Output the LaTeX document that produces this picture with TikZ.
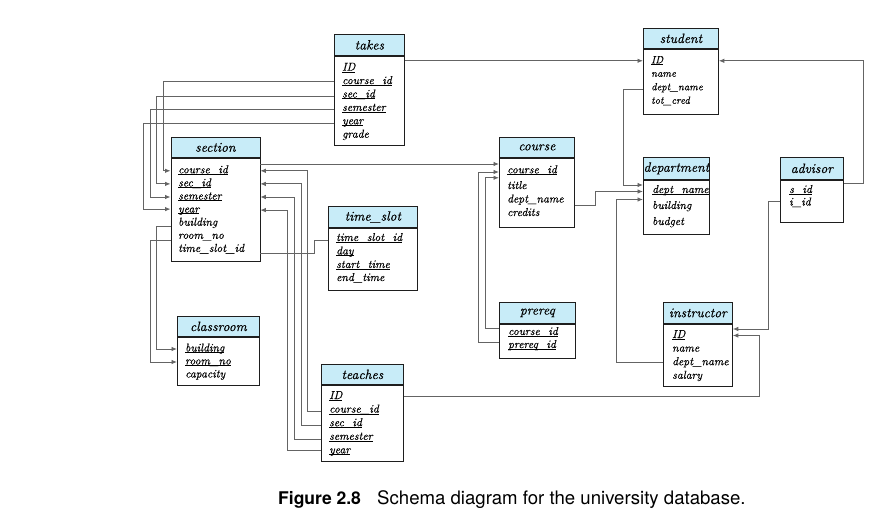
\documentclass[tikz,border=0pt]{standalone}
\usepackage{fontspec}
\newfontfamily\capfont{TeX Gyre Heros}
% italic for the relation boxes, set a little heavier
\newfontfamily\tabfont{lmroman10-italic}[Extension=.otf, FakeBold=0.3]
\usetikzlibrary{arrows.meta,calc}
\definecolor{hdrfill}{RGB}{200,236,248}
\definecolor{boxline}{RGB}{30,30,30}
\definecolor{linkgray}{RGB}{100,100,100}
% primary-key attribute: underlined just below the baseline
\newcommand\pk[1]{\leavevmode\vtop{\hbox{\smash{#1}}\kern0.9pt\hrule height 0.7pt}}
% relation box: name, x, y, width, header height, body height, title
\newcommand\entity[7]{%
  \node[hdr, minimum width=#4pt, minimum height=#5pt] (#1-h) at (#2,#3) {#7};
  \node[tbody, minimum width=#4pt, minimum height=#6pt] (#1) at (#1-h.south west) {};}
% attribute line: name, x, baseline y, text
\newcommand\attr[4]{\node[attr] (#1) at (#2,#3) {#4};}
\begin{document}
\begin{tikzpicture}[x=1pt,y=-1pt,
  hdr/.style={draw=boxline, fill=hdrfill, line width=0.8pt, anchor=north west,
    inner sep=0pt, font=\tabfont\fontsize{13.5}{16}\selectfont},
  tbody/.style={draw=boxline, fill=white, line width=0.8pt, anchor=north west, inner sep=0pt},
  attr/.style={anchor=base west, inner sep=0pt, text height=7pt, text depth=2pt,
    font=\tabfont\fontsize{11.5}{13}\selectfont},
  link/.style={draw=linkgray, line width=0.9pt},
  fk/.style={link, -{Latex[length=5.5pt,width=4.5pt]}},
  caption/.style={anchor=base west, inner sep=0pt, font=\capfont\fontsize{18.6}{20}\selectfont}]
\fill[white] (0,0) rectangle (879,516);
\path[use as bounding box] (0,0) rectangle (879,516);

% relations
\entity{takes}{334}{34}{70}{21}{89}{takes}
\entity{student}{643}{28}{75}{20}{65}{student}
\entity{section}{170.5}{137}{89}{20}{103.5}{section}
\entity{course}{499}{137}{75}{20}{69}{course}
\entity{department}{643}{157}{66}{22}{54}{department}
\entity{advisor}{780}{157}{63}{22}{42}{advisor}
\entity{timeslot}{328}{206}{89}{21}{62}{time\_slot}
\entity{prereq}{499}{302}{76}{21}{34}{prereq}
\entity{instructor}{663}{302}{69}{21}{62}{instructor}
\entity{classroom}{177}{316}{82}{20}{48}{classroom}
\entity{teaches}{321}{364}{82}{20}{76}{teaches}

% attributes
\attr{takes-ID}{342}{70.7}{\pk{ID}}
\attr{takes-cid}{342}{84.1}{\pk{course\_id}}
\attr{takes-sid}{342}{97.5}{\pk{sec\_id}}
\attr{takes-sem}{342}{110.9}{\pk{semester}}
\attr{takes-year}{342}{124.3}{\pk{year}}
\attr{takes-grade}{342}{137.7}{grade}

\begin{scope}[attr/.append style={font=\tabfont\fontsize{10.5}{12}\selectfont}]
\attr{student-ID}{651}{63.3}{\pk{ID}}
\attr{student-name}{651}{76.8}{name}
\attr{student-dname}{651}{90.3}{dept\_name}
\attr{student-cred}{651}{103.8}{tot\_cred}
\end{scope}

\attr{section-cid}{178}{173.3}{\pk{course\_id}}
\attr{section-sid}{178}{186.4}{\pk{sec\_id}}
\attr{section-sem}{178}{199.5}{\pk{semester}}
\attr{section-year}{178}{212.6}{\pk{year}}
\attr{section-bld}{178}{225.7}{building}
\attr{section-room}{178}{238.8}{room\_no}
\attr{section-tsid}{178}{251.9}{time\_slot\_id}

\attr{course-cid}{507}{173.3}{\pk{course\_id}}
\attr{course-title}{507}{189}{title}
\attr{course-dname}{507}{202.5}{dept\_name}
\attr{course-credits}{507}{216}{credits}

\attr{department-dname}{652}{193}{\pk{dept\_name}}
\attr{department-bld}{652}{209}{building}
\attr{department-budget}{652}{225}{budget}

\attr{advisor-sid}{789}{193}{\pk{s\_id}}
\attr{advisor-iid}{789}{205.5}{i\_id}

\attr{timeslot-tsid}{336}{241}{\pk{time\_slot\_id}}
\attr{timeslot-day}{336}{254.5}{\pk{day}}
\attr{timeslot-start}{336}{268}{\pk{start\_time}}
\attr{timeslot-end}{336}{281}{end\_time}

\attr{prereq-cid}{508}{335}{\pk{course\_id}}
\attr{prereq-pid}{508}{348}{\pk{prereq\_id}}

\attr{instructor-ID}{672}{338}{\pk{ID}}
\attr{instructor-name}{672}{351.6}{name}
\attr{instructor-dname}{672}{365.2}{dept\_name}
\attr{instructor-salary}{672}{378.8}{salary}

\attr{classroom-bld}{185}{351.5}{\pk{building}}
\attr{classroom-room}{185}{364.5}{\pk{room\_no}}
\attr{classroom-cap}{185}{377.5}{capacity}

\attr{teaches-ID}{329}{399}{\pk{ID}}
\attr{teaches-cid}{329}{412.6}{\pk{course\_id}}
\attr{teaches-sid}{329}{426.2}{\pk{sec\_id}}
\attr{teaches-sem}{329}{439.8}{\pk{semester}}
\attr{teaches-year}{329}{453.4}{\pk{year}}

% foreign keys
\draw[fk] (takes.east |- student-ID) -- (student.west |- student-ID);
\draw[fk] (takes.west |- takes-cid) -| (163,0 |- section-cid) -- (section.west |- section-cid);
\draw[fk] ($(takes.west |- takes-sid)+(0,1)$) -| (156.5,0 |- section-sid) -- (section.west |- section-sid);
\draw[fk] ($(takes.west |- takes-sem)+(0,0.6)$) -| (150,0 |- section-sem) -- (section.west |- section-sem);
\draw[fk] ($(takes.west |- takes-year)+(0,1.2)$) -| ($(143.5,0 |- section-year)+(0,-1)$) -- ($(section.west |- section-year)+(0,-1)$);

\draw[fk] ($(section.east |- section-cid)+(0,-6.8)$) -- ($(course.west |- course-cid)+(0,-6.8)$);

\draw[fk] ($(teaches.west |- teaches-cid)+(0,1.5)$) -| (307,0 |- section-cid) -- (section.east |- section-cid);
\draw[fk] ($(teaches.west |- teaches-sid)+(0,1.3)$) -| (301,0 |- section-sid) -- (section.east |- section-sid);
\draw[fk] ($(teaches.west |- teaches-sem)+(0,1.7)$) -| (294,0 |- section-sem) -- (section.east |- section-sem);
\draw[fk] (teaches.west |- teaches-year) -| (287,0 |- section-year) -- (section.east |- section-year);

\draw[fk] ($(section.west |- section-bld)+(0,3)$) -| (156.5,0 |- classroom-bld) -- (classroom.west |- classroom-bld);
\draw[fk] ($(section.west |- section-room)+(0,4.5)$) -| (150,0 |- classroom-room) -- (classroom.west |- classroom-room);

\draw[link] ($(section.east |- section-tsid)+(0,4)$) -| ($(314,0 |- timeslot-tsid)+(0,1.5)$) -- ($(timeslot.west |- timeslot-tsid)+(0,1.5)$);

\draw[fk] ($(prereq.west |- prereq-cid)+(0,-4.5)$) -| ($(485.5,0 |- course-cid)+(0,7)$) -- ($(course.west |- course-cid)+(0,7)$);
\draw[fk] ($(prereq.west |- prereq-pid)+(0,-3.5)$) -| ($(478.5,0 |- course-cid)+(0,1.2)$) -- ($(course.west |- course-cid)+(0,1.2)$);

\draw[fk] ($(course.east |- course-dname)+(0,5.5)$) -| ($(595.5,0 |- department-dname)+(0,1)$) -- ($(department.west |- department-dname)+(0,1)$);
\draw[fk] ($(student.west |- student-dname)+(0,2)$) -| ($(623,0 |- department-dname)+(0,-5.5)$) -- ($(department.west |- department-dname)+(0,-5.5)$);
\draw[fk] (instructor.west |- instructor-dname) -| ($(616,0 |- department-dname)+(0,9)$) -- ($(department.west |- department-dname)+(0,9)$);

\draw[fk] ($(advisor.east |- advisor-sid)+(0,-7)$) -| (863,0 |- student-ID) -- (student.east |- student-ID);
\draw[fk] ($(advisor.west |- advisor-iid)+(0,-1.3)$) -| ($(768,0 |- instructor-ID)+(0,-6.5)$) -- ($(instructor.east |- instructor-ID)+(0,-6.5)$);
\draw[fk] (teaches.east |- teaches-ID) -| (759,0 |- instructor-ID) -- (instructor.east |- instructor-ID);

% caption
\node[caption, font=\capfont\fontsize{17.5}{20}\selectfont\bfseries] (figlabel) at (278,504) {Figure 2.8};
\node[caption] (figtext) at (377,504) {Schema diagram for the university database.};
\end{tikzpicture}
\end{document}
